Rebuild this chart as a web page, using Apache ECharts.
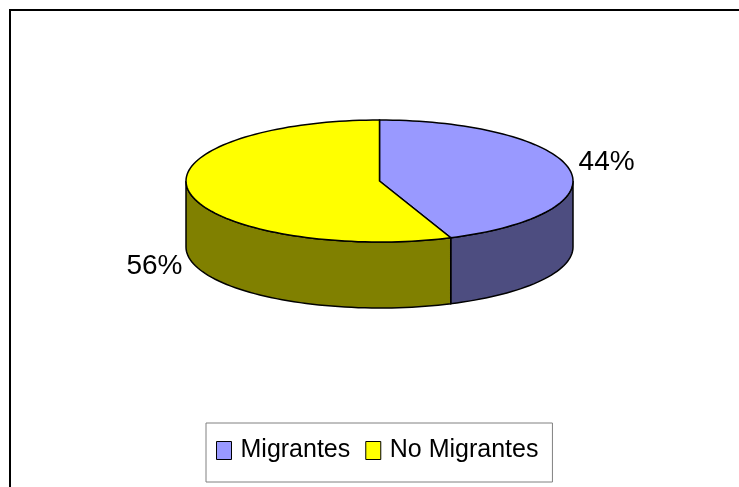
<!DOCTYPE html>
<html>
<head>
<meta charset="utf-8">
<script src="https://cdn.jsdelivr.net/npm/echarts@6/dist/echarts.min.js"></script>
<style>
  html, body { margin: 0; padding: 0; background: #fff; }
  #chart { width: 739px; height: 487px; }
</style>
</head>
<body>
<div id="chart"></div>
<script>
// data
const categories = ['Migrantes', 'No Migrantes'];
const values = [44, 56];
const topColors = ['#9999FF', '#FFFF00'];
const sideColors = ['#4D4D80', '#808000'];

const total = values.reduce((a, b) => a + b, 0);
// start angle of each slice, degrees clockwise from 12 o'clock
const startAngles = [];
let acc = 0;
values.forEach(v => { startAngles.push(acc / total * 360); acc += v; });

// 3d pie geometry (top ellipse + extrusion depth)
const pie = { cx: 379.5, cy: 181, rx: 193.5, ry: 61, depth: 66 };
const font = 'Liberation Sans, Arial, sans-serif';

function rimPoint(deg, dy) {
  const t = deg * Math.PI / 180;
  return [pie.cx + pie.rx * Math.sin(t), pie.cy - pie.ry * Math.cos(t) + dy];
}
function arc(a0, a1, dy) {
  const pts = [];
  const n = Math.max(2, Math.ceil(Math.abs(a1 - a0) / 2));
  for (let i = 0; i <= n; i++) pts.push(rimPoint(a0 + (a1 - a0) * i / n, dy));
  return pts;
}

function makeRender(i) {
  return function (params, api) {
    const v = api.value(0);
    const a0 = startAngles[i];
    const a1 = a0 + v / total * 360;
    const children = [];
    // front side wall, only the part facing the viewer (90..270 deg)
    const s = Math.max(a0, 90), e = Math.min(a1, 270);
    if (e > s) {
      children.push({
        type: 'polygon',
        shape: { points: arc(s, e, 0).concat(arc(e, s, pie.depth)) },
        style: { fill: sideColors[i], stroke: '#000', lineWidth: 1.5 }
      });
    }
    // top face
    children.push({
      type: 'polygon',
      shape: { points: [[pie.cx, pie.cy]].concat(arc(a0, a1, 0)) },
      style: { fill: topColors[i], stroke: '#000', lineWidth: 1.5 }
    });
    // percent label outside the slice
    const mid = (a0 + a1) / 2;
    const front = Math.cos(mid * Math.PI / 180) < 0;
    const right = Math.sin(mid * Math.PI / 180) > 0;
    const p = rimPoint(mid, front ? pie.depth : 0);
    children.push({
      type: 'text',
      x: p[0] + (right ? 9 : -7),
      y: p[1] + (front ? 8 : -7),
      style: {
        text: Math.round(v / total * 100) + '%',
        fontSize: 28,
        fontFamily: font,
        fill: '#000',
        align: right ? 'left' : 'right',
        verticalAlign: 'middle'
      }
    });
    return { type: 'group', children: children };
  };
}

const chart = echarts.init(document.getElementById('chart'));
chart.setOption({
  animation: false,
  graphic: [{
    type: 'rect',
    x: 10, y: 10,
    shape: { x: 0, y: 0, width: 800, height: 600 },
    style: { fill: 'none', stroke: '#000', lineWidth: 2 },
    silent: true,
    z: -1
  }],
  legend: {
    data: categories,
    left: 206,
    top: 423,
    icon: 'rect',
    itemWidth: 15,
    itemHeight: 18,
    itemGap: 15,
    padding: [15, 14, 19, 10],
    borderColor: '#808080',
    borderWidth: 1,
    selectedMode: false,
    itemStyle: { borderColor: '#000', borderWidth: 1 },
    textStyle: { fontSize: 25, fontFamily: font, color: '#000', padding: [0, 0, 0, 4] }
  },
  series: categories.map((name, i) => ({
    type: 'custom',
    name: name,
    coordinateSystem: 'none',
    silent: true,
    itemStyle: { color: topColors[i] },
    renderItem: makeRender(i),
    data: [[values[i]]]
  }))
});
</script>
</body>
</html>
